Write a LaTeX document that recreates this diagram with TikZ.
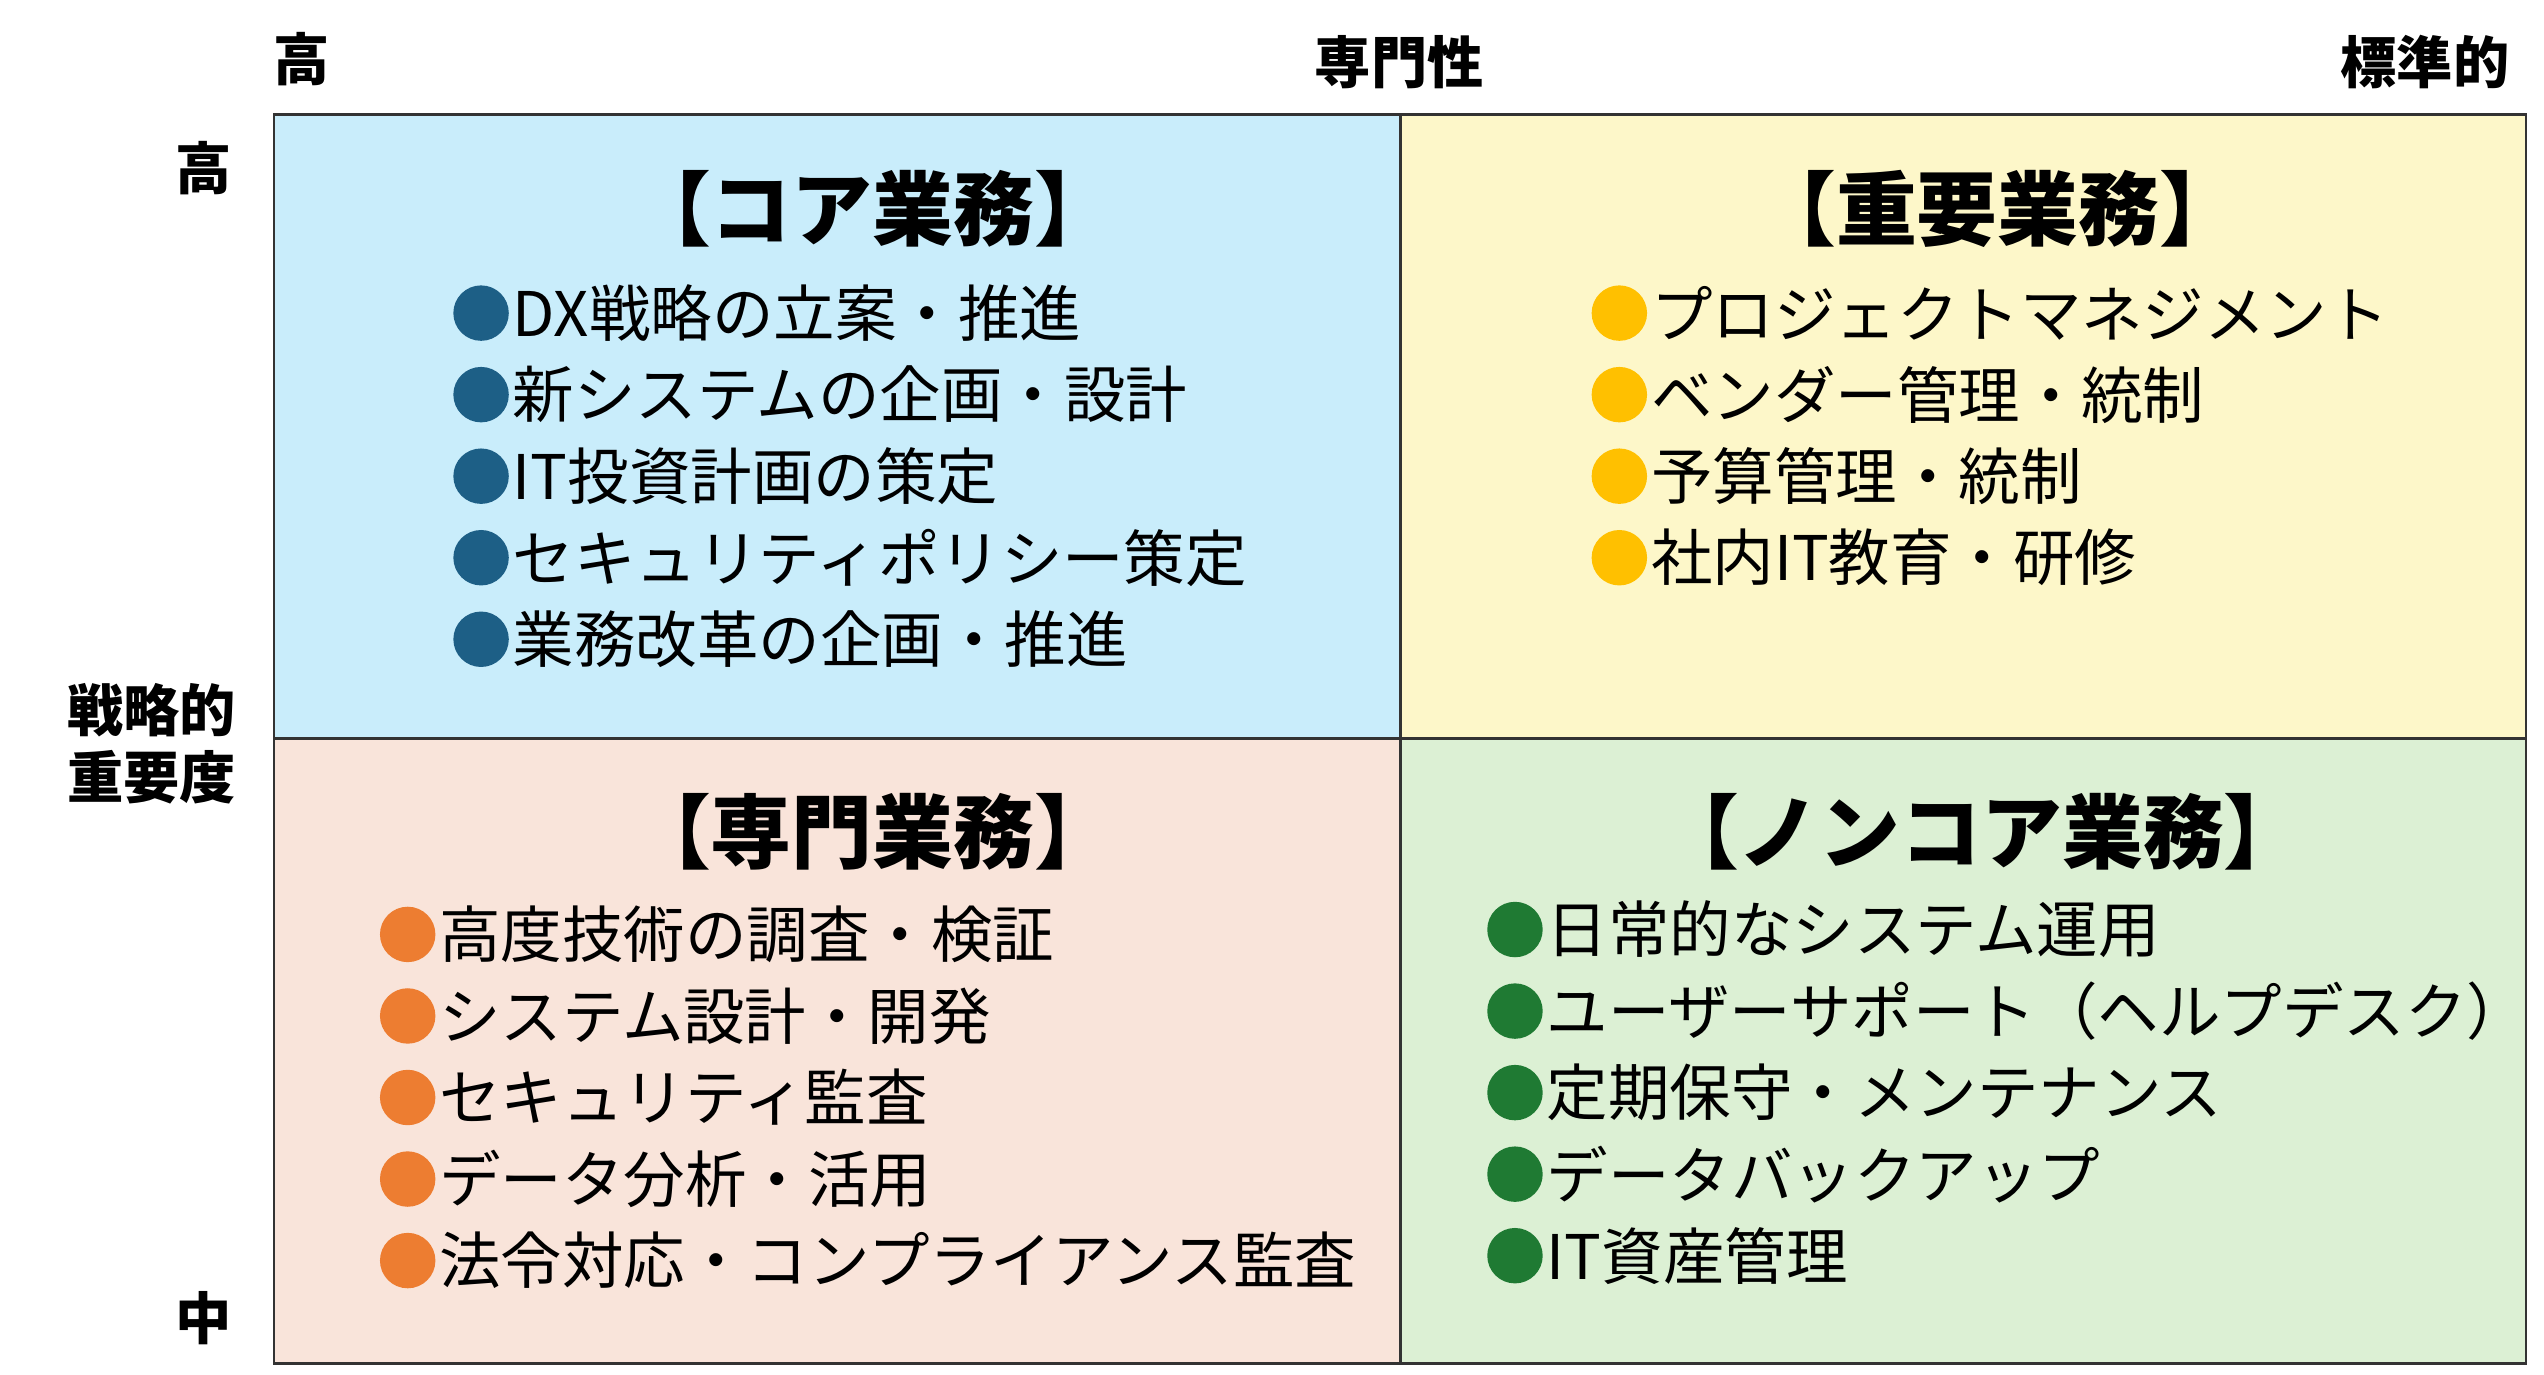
\documentclass[tikz,border=0pt]{standalone}
\usepackage{fontspec}
\setmainfont{Noto Sans CJK JP}
\usetikzlibrary{calc}
\definecolor{cellblue}{HTML}{C9EDFB}
\definecolor{cellyellow}{HTML}{FDF7C9}
\definecolor{cellpink}{HTML}{F9E4DA}
\definecolor{cellgreen}{HTML}{DCF0D4}
\definecolor{dotblue}{HTML}{1D5F86}
\definecolor{dotyellow}{HTML}{FFC000}
\definecolor{dotorange}{HTML}{ED7D31}
\definecolor{dotgreen}{HTML}{1F7A33}
\tikzset{
  cell/.style={draw=black!80, line width=0.8pt},
  heading/.style={font=\fontsize{23}{26}\selectfont\bfseries},
  item/.style={anchor=west, inner sep=0pt, font=\fontsize{17.5}{20}\selectfont},
  axis/.style={font=\fontsize{16}{19}\selectfont\bfseries, align=center},
}
\begin{document}
\begin{tikzpicture}[x=0.01631cm, y=-0.01631cm]
    %% Background
    \useasboundingbox (0,0) rectangle (1560,843);

    %% Cells
    \draw[cell, fill=cellblue] (168,70) rectangle (859,453);
    \draw[cell, fill=cellyellow] (859,70) rectangle (1549,453);
    \draw[cell, fill=cellpink] (168,453) rectangle (859,836);
    \draw[cell, fill=cellgreen] (859,453) rectangle (1549,836);

    %% Axes
    \node[axis] (spec) at (858,38) {専門性};
    \node[axis] (spechigh) at (185,36) {高};
    \node[axis] (specstd) at (1487,38) {標準的};
    \node[axis] (strathigh) at (125,103) {高};
    \node[axis] (strat) at (93,456) {戦略的\\重要度};
    \node[axis] (stratmid) at (125,808) {中};

    %% Headings
    \node[heading] (core) at (535,128) {【コア業務】};
    \node[heading] (key) at (1225,128) {【重要業務】};
    \node[heading] (expert) at (535,510) {【専門業務】};
    \node[heading] (noncore) at (1215,510) {【ノンコア業務】};

    %% Items
    \foreach \t [count=\i] in {DX戦略の立案・推進, 新システムの企画・設計, IT投資計画の策定, セキュリティポリシー策定, 業務改革の企画・推進}
    {
        \fill[dotblue] (295,142+50*\i) circle (17);
        \node[item] (core\i) at (314,142+50*\i) {\t};
    }
    \foreach \t [count=\i] in {プロジェクトマネジメント, ベンダー管理・統制, 予算管理・統制, 社内IT教育・研修}
    {
        \fill[dotyellow] (993,142+50*\i) circle (17);
        \node[item] (key\i) at (1012,142+50*\i) {\t};
    }
    \foreach \t [count=\i] in {高度技術の調査・検証, システム設計・開発, セキュリティ監査, データ分析・活用, 法令対応・コンプライアンス監査}
    {
        \fill[dotorange] (250,523+50*\i) circle (17);
        \node[item] (expert\i) at (269,523+50*\i) {\t};
    }
    \foreach \t [count=\i] in {日常的なシステム運用, ユーザーサポート（ヘルプデスク）, 定期保守・メンテナンス, データバックアップ, IT資産管理}
    {
        \fill[dotgreen] (929,520+50*\i) circle (17);
        \node[item] (noncore\i) at (948,520+50*\i) {\t};
    }
\end{tikzpicture}
\end{document}
